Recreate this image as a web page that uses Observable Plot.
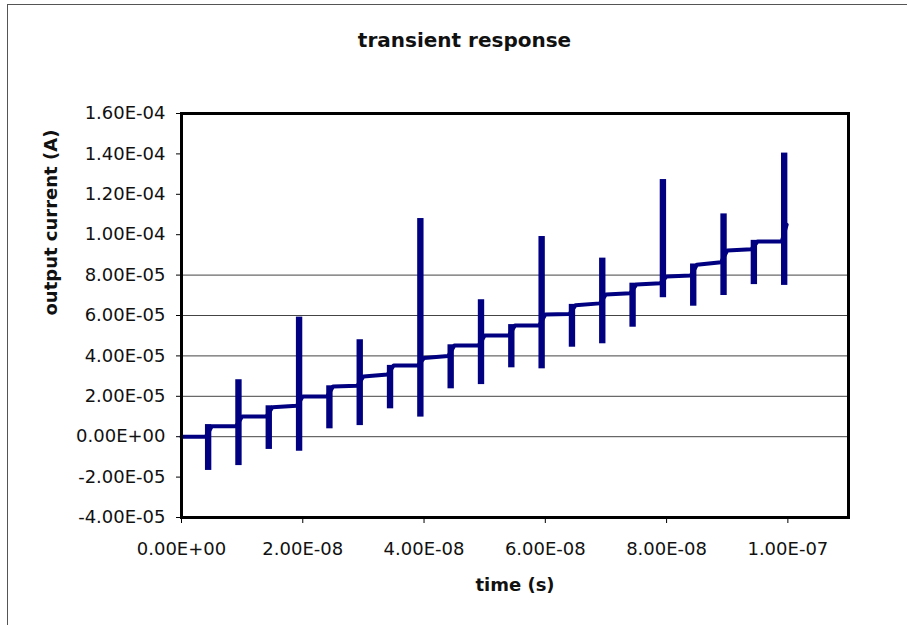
<!DOCTYPE html>
<html>
<head>
<meta charset="utf-8">
<script src="https://cdn.jsdelivr.net/npm/d3@7"></script>
<script src="https://cdn.jsdelivr.net/npm/@observablehq/plot@0.6"></script>
<style>
  html, body { margin: 0; padding: 0; background: white; }
  #wrap { position: relative; width: 907px; height: 625px; overflow: hidden; }
  #border { position: absolute; left: 7px; top: 4px; width: 1000px; height: 1000px;
            border-left: 1px solid #555; border-top: 1px solid #555; pointer-events: none; }
</style>
</head>
<body>
<div id="wrap"><div id="border"></div></div>
<script>
// ---- data (times in ns, current in A) ----
const plateauStartNs = [0, 5, 10, 15, 20, 25, 30, 35, 40, 45, 50, 55, 60, 65, 70, 75, 80, 85, 90, 95];
const plateauEndNs   = [4, 9, 14, 19, 24, 29, 34, 39, 44, 49, 54, 59, 64, 69, 74, 79, 84, 89, 94, 99];
const plateauLevelStart = [0, 5.2e-6, 1.0e-5, 1.46e-5, 1.99e-5, 2.49e-5, 2.98e-5, 3.53e-5, 3.9e-5, 4.51e-5,
                           5.01e-5, 5.51e-5, 6.05e-5, 6.51e-5, 7.04e-5, 7.53e-5, 7.93e-5, 8.51e-5, 9.22e-5, 9.66e-5];
const plateauLevelEnd   = [0, 5.2e-6, 1.0e-5, 1.53e-5, 1.99e-5, 2.52e-5, 3.08e-5, 3.53e-5, 4.0e-5, 4.51e-5,
                           5.01e-5, 5.51e-5, 6.08e-5, 6.6e-5, 7.1e-5, 7.6e-5, 7.98e-5, 8.64e-5, 9.28e-5, 9.66e-5];
const spikeStartNs = [3.95, 8.95, 13.95, 18.95, 23.95, 28.95, 33.95, 38.95, 43.95, 48.95,
                      53.95, 58.95, 63.95, 68.95, 73.95, 78.95, 83.95, 88.95, 93.95, 98.95];
const spikeEndNs   = [5, 10, 15, 20, 25, 30, 35, 40, 45, 50, 55, 60, 65, 70, 75, 80, 85, 90, 95, 100];
const spikeMax = [6e-6, 2.82e-5, 1.53e-5, 5.92e-5, 2.52e-5, 4.8e-5, 3.53e-5, 1.08e-4, 4.55e-5, 6.78e-5,
                  5.55e-5, 9.91e-5, 6.55e-5, 8.84e-5, 7.6e-5, 1.273e-4, 8.55e-5, 1.103e-4, 9.72e-5, 1.404e-4];
const spikeMin = [-1.67e-5, -1.43e-5, -6.3e-6, -7.2e-6, 3.9e-6, 5.5e-6, 1.38e-5, 9.7e-6, 2.37e-5, 2.58e-5,
                  3.41e-5, 3.36e-5, 4.43e-5, 4.6e-5, 5.42e-5, 6.88e-5, 6.46e-5, 6.99e-5, 7.53e-5, 7.49e-5];
const finalTimeNs = 99.8;
const finalValue = 1.05e-4;

const xTicks = [0, 2e-8, 4e-8, 6e-8, 8e-8, 1e-7];
const yTicks = [-4e-5, -2e-5, 0, 2e-5, 4e-5, 6e-5, 8e-5, 1e-4, 1.2e-4, 1.4e-4, 1.6e-4];
const gridValues = [0, 2e-5, 4e-5, 6e-5, 8e-5];

const titleText = "transient response";
const xLabel = "time (s)";
const yLabel = "output current (A)";

// ---- build tables ----
const NS = 1e-9;
const linePts = [];
plateauStartNs.forEach((s, i) => {
  linePts.push({t: s * NS, v: plateauLevelStart[i]});
  linePts.push({t: plateauEndNs[i] * NS, v: plateauLevelEnd[i]});
});
linePts.push({t: finalTimeNs * NS, v: finalValue});

const spikes = spikeStartNs.map((s, i) => ({t0: s * NS, t1: spikeEndNs[i] * NS, lo: spikeMin[i], hi: spikeMax[i]}));

const fmtE = v => {
  if (Math.abs(v) < 1e-20) return "0.00E+00";
  const [m, e] = v.toExponential(2).split("e");
  const n = parseInt(e);
  return m + "E" + (n < 0 ? "-" : "+") + String(Math.abs(n)).padStart(2, "0");
};

const navy = "#000080";

const chart = Plot.plot({
  width: 907,
  height: 625,
  marginLeft: 181,
  marginRight: 59,
  marginTop: 113,
  marginBottom: 108,
  style: {fontFamily: "'DejaVu Sans', sans-serif", fontSize: "18px", color: "#111", background: "transparent"},
  x: {domain: [0, 1.1e-7]},
  y: {domain: [-4e-5, 1.6e-4]},
  marks: [
    Plot.ruleY(gridValues, {stroke: "#444", strokeWidth: 1}),
    Plot.axisY(yTicks, {anchor: "left", tickSize: 5, tickPadding: 11, tickFormat: fmtE, label: null, stroke: "black"}),
    Plot.axisX(xTicks, {anchor: "bottom", tickSize: 6, tickPadding: 19, tickFormat: fmtE, label: null, stroke: "black"}),
    Plot.rect(spikes, {x1: "t0", x2: "t1", y1: "lo", y2: "hi", fill: navy}),
    Plot.line(linePts, {x: "t", y: "v", stroke: navy, strokeWidth: 4}),
    Plot.frame({stroke: "black", strokeWidth: 3}),
    Plot.text([titleText], {frameAnchor: "top", dx: -50.5, dy: -73, fontSize: 20, fontWeight: "bold", fill: "#111", lineAnchor: "middle"}),
    Plot.text([xLabel], {frameAnchor: "bottom", dy: 68, fontSize: 18, fontWeight: "bold", fill: "#111", lineAnchor: "middle"}),
    Plot.text([yLabel], {frameAnchor: "left", dx: -130.5, rotate: -90, fontSize: 18, fontWeight: "bold", fill: "#111", lineAnchor: "middle"})
  ]
});
document.getElementById("wrap").appendChild(chart);
</script>
</body>
</html>
